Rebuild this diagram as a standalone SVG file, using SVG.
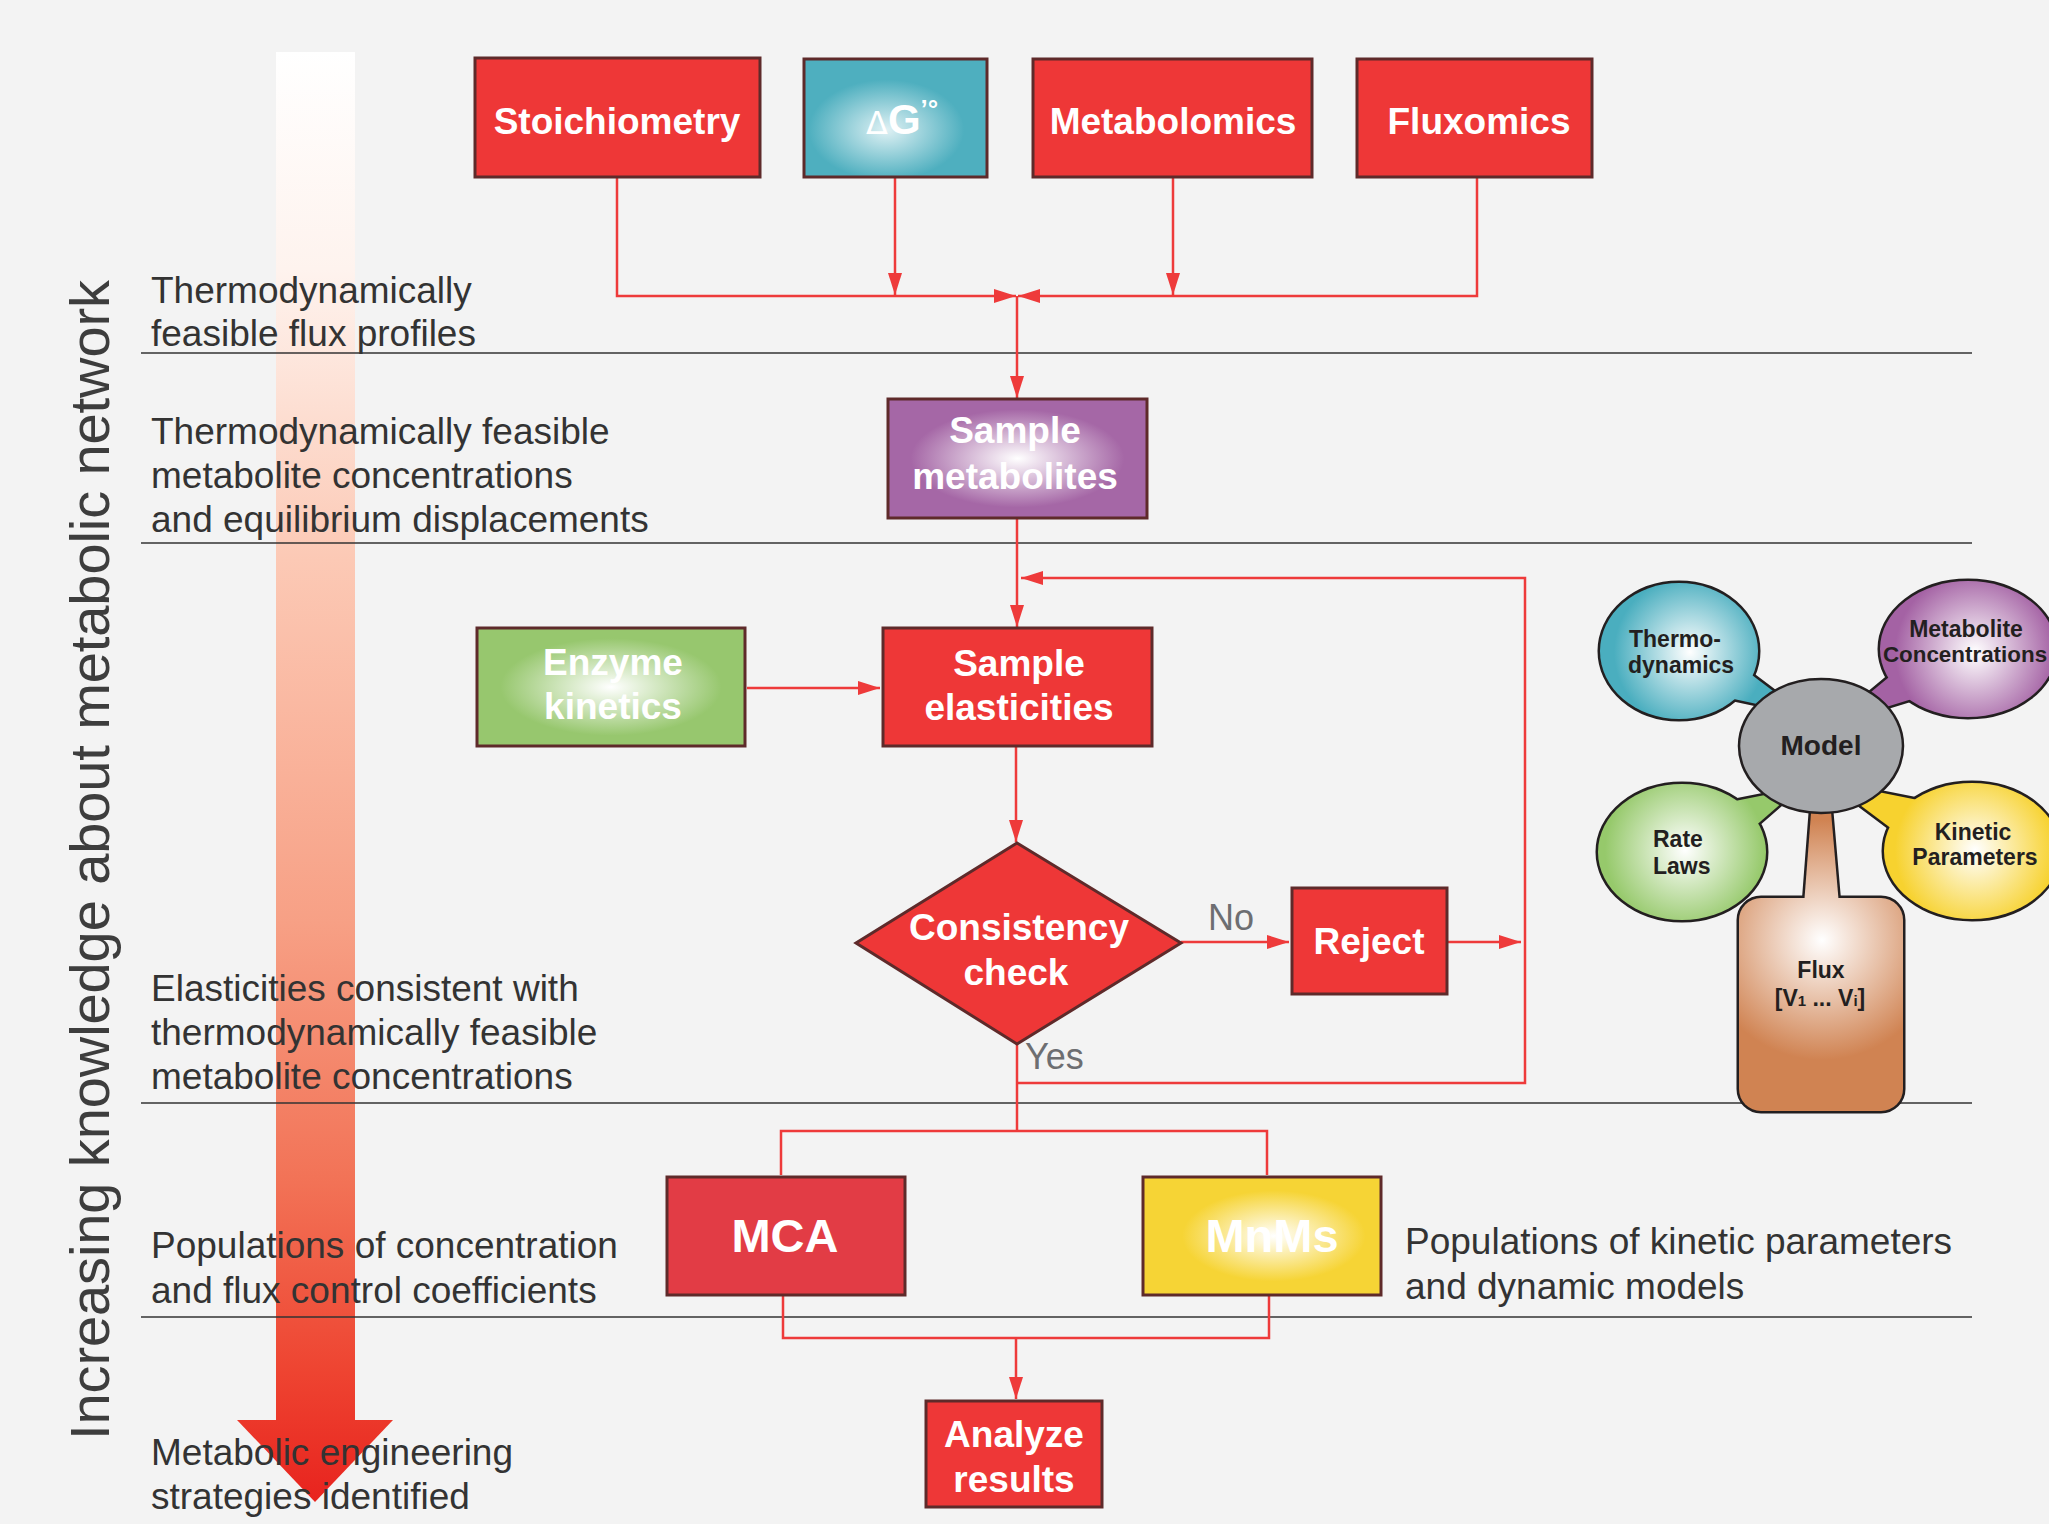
<svg xmlns="http://www.w3.org/2000/svg" width="2049" height="1524" viewBox="0 0 2049 1524">
<defs>
<style>
.box{stroke:#5e2a2a;stroke-width:3}
.lbl{font-family:"Liberation Sans",Arial,sans-serif;font-weight:bold;fill:#fff;font-size:37px;text-anchor:middle}
.side{font-family:"Liberation Sans",Arial,sans-serif;font-size:37px;fill:#333}
.conn{fill:none;stroke:#ee3a3a;stroke-width:2.5}
.div{stroke:#333;stroke-width:1.6}
.yn{font-family:"Liberation Sans",Arial,sans-serif;font-size:36px;fill:#6d6e71}
.bub{font-family:"Liberation Sans",Arial,sans-serif;font-size:23px;font-weight:bold;fill:#231f20}
.ol{fill:none;stroke:#231f20;stroke-width:5}
</style>
<marker id="ah" viewBox="0 0 22 14" refX="22" refY="7" markerWidth="22" markerHeight="14" markerUnits="userSpaceOnUse" orient="auto">
<path d="M0,0 L22,7 L0,14 z" fill="#ee3a3a"/>
</marker>
<linearGradient id="bar" gradientUnits="userSpaceOnUse" x1="0" y1="52" x2="0" y2="1502">
<stop offset="0" stop-color="#ffffff"/>
<stop offset="0.15" stop-color="#fef3ee"/>
<stop offset="0.35" stop-color="#fcc9b5"/>
<stop offset="0.6" stop-color="#f7a085"/>
<stop offset="0.78" stop-color="#f27256"/>
<stop offset="0.91" stop-color="#ee4431"/>
<stop offset="1" stop-color="#e8231e"/>
</linearGradient>
<radialGradient id="gTeal" cx="0.45" cy="0.6" r="0.5"><stop offset="0" stop-color="#dff1f4"/><stop offset="0.85" stop-color="#4eafbf"/></radialGradient>
<radialGradient id="gPurple" cx="0.5" cy="0.5" r="0.55"><stop offset="0" stop-color="#ffffff"/><stop offset="0.75" stop-color="#a567a6"/></radialGradient>
<radialGradient id="gGreen" cx="0.5" cy="0.5" r="0.55"><stop offset="0" stop-color="#ffffff"/><stop offset="0.75" stop-color="#97c76e"/></radialGradient>
<radialGradient id="gYellow" cx="0.55" cy="0.5" r="0.55"><stop offset="0" stop-color="#ffffff"/><stop offset="0.7" stop-color="#f6d435"/></radialGradient>
<radialGradient id="bTeal" gradientUnits="userSpaceOnUse" cx="1690" cy="652" r="95"><stop offset="0" stop-color="#ffffff"/><stop offset="0.8" stop-color="#4aaebf"/></radialGradient>
<radialGradient id="bPurple" gradientUnits="userSpaceOnUse" cx="1975" cy="652" r="100"><stop offset="0" stop-color="#ffffff"/><stop offset="0.8" stop-color="#a462a4"/></radialGradient>
<radialGradient id="bGreen" gradientUnits="userSpaceOnUse" cx="1685" cy="850" r="100"><stop offset="0" stop-color="#ffffff"/><stop offset="0.8" stop-color="#96c96b"/></radialGradient>
<radialGradient id="bYellow" gradientUnits="userSpaceOnUse" cx="1975" cy="850" r="100"><stop offset="0" stop-color="#ffffff"/><stop offset="0.8" stop-color="#f7d22f"/></radialGradient>
<radialGradient id="bOrange" gradientUnits="userSpaceOnUse" cx="1822" cy="940" r="160"><stop offset="0" stop-color="#ffffff"/><stop offset="0.75" stop-color="#d08352"/></radialGradient>
</defs>
<rect x="0" y="0" width="2049" height="1524" fill="#f3f3f3"/>

<g id="knowledge-arrow">
<rect x="276" y="52" width="79" height="1369" fill="url(#bar)"/>
<polygon points="237,1420 393,1420 315,1502" fill="url(#bar)"/>
<text transform="translate(109,1440) rotate(-90)" font-family="Liberation Sans, Arial, sans-serif" font-size="56" fill="#3d3d3d" textLength="1160" lengthAdjust="spacing">Increasing knowledge about metabolic network</text>
</g>

<g id="dividers">
<line class="div" x1="141" y1="353" x2="1972" y2="353"/>
<line class="div" x1="141" y1="543" x2="1972" y2="543"/>
<line class="div" x1="141" y1="1103" x2="1972" y2="1103"/>
<line class="div" x1="141" y1="1317" x2="1972" y2="1317"/>
</g>

<g id="side-labels">
<text class="side" x="151" y="303">Thermodynamically</text>
<text class="side" x="151" y="346">feasible flux profiles</text>
<text class="side" x="151" y="444">Thermodynamically feasible</text>
<text class="side" x="151" y="488">metabolite concentrations</text>
<text class="side" x="151" y="532">and equilibrium displacements</text>
<text class="side" x="151" y="1001">Elasticities consistent with</text>
<text class="side" x="151" y="1045">thermodynamically feasible</text>
<text class="side" x="151" y="1089">metabolite concentrations</text>
<text class="side" x="151" y="1258">Populations of concentration</text>
<text class="side" x="151" y="1303">and flux control coefficients</text>
<text class="side" x="151" y="1465">Metabolic engineering</text>
<text class="side" x="151" y="1509">strategies identified</text>
<text class="side" x="1405" y="1254">Populations of kinetic parameters</text>
<text class="side" x="1405" y="1299">and dynamic models</text>
</g>

<g id="connectors">
<path class="conn" d="M617,178 V296 H1016" marker-end="url(#ah)"/>
<path class="conn" d="M895,178 V295" marker-end="url(#ah)"/>
<path class="conn" d="M1173,178 V295" marker-end="url(#ah)"/>
<path class="conn" d="M1477,178 V296 H1018" marker-end="url(#ah)"/>
<path class="conn" d="M1017,296 V398" marker-end="url(#ah)"/>
<path class="conn" d="M1017,518 V627" marker-end="url(#ah)"/>
<path class="conn" d="M1017,1083 H1525 V578 H1021" marker-end="url(#ah)"/>
<path class="conn" d="M747,688 H880" marker-end="url(#ah)"/>
<path class="conn" d="M1016,746 V842" marker-end="url(#ah)"/>
<path class="conn" d="M1181,942 H1289" marker-end="url(#ah)"/>
<path class="conn" d="M1447,942 H1521" marker-end="url(#ah)"/>
<path class="conn" d="M1017,1044 V1131"/>
<path class="conn" d="M781,1175 V1131 H1267 V1175"/>
<path class="conn" d="M783,1295 V1338 H1269 V1295"/>
<path class="conn" d="M1016,1338 V1399" marker-end="url(#ah)"/>
<text class="yn" x="1208" y="930">No</text>
<text class="yn" x="1025" y="1069">Yes</text>
</g>

<g id="stoichiometry">
<rect class="box" x="475" y="58" width="285" height="119" fill="#ee3737"/>
<text class="lbl" x="617" y="134">Stoichiometry</text>
</g>
<g id="deltaG">
<rect class="box" x="804" y="59" width="183" height="118" fill="url(#gTeal)"/>
<text x="866" y="134" font-family="DejaVu Sans, sans-serif" fill="#fff"><tspan font-size="32">Δ</tspan><tspan font-family="Liberation Sans, Arial, sans-serif" font-weight="bold" font-size="42">G</tspan><tspan font-family="Liberation Sans, Arial, sans-serif" font-weight="bold" font-size="26" dy="-16">’°</tspan></text>
</g>
<g id="metabolomics">
<rect class="box" x="1033" y="59" width="279" height="118" fill="#ee3737"/>
<text class="lbl" x="1173" y="134">Metabolomics</text>
</g>
<g id="fluxomics">
<rect class="box" x="1357" y="59" width="235" height="118" fill="#ee3737"/>
<text class="lbl" x="1479" y="134">Fluxomics</text>
</g>

<g id="sample-metabolites">
<rect class="box" x="888" y="399" width="259" height="119" fill="url(#gPurple)"/>
<text class="lbl" x="1015" y="443">Sample</text>
<text class="lbl" x="1015" y="489">metabolites</text>
</g>
<g id="enzyme-kinetics">
<rect class="box" x="477" y="628" width="268" height="118" fill="url(#gGreen)"/>
<text class="lbl" x="613" y="675">Enzyme</text>
<text class="lbl" x="613" y="719">kinetics</text>
</g>
<g id="sample-elasticities">
<rect class="box" x="883" y="628" width="269" height="118" fill="#ee3737"/>
<text class="lbl" x="1019" y="676">Sample</text>
<text class="lbl" x="1019" y="720">elasticities</text>
</g>
<g id="consistency-check">
<polygon class="box" points="1017,843 1181,943 1017,1044 856,943" fill="#ee3737"/>
<text class="lbl" x="1019" y="940">Consistency</text>
<text class="lbl" x="1016" y="985">check</text>
</g>
<g id="reject">
<rect class="box" x="1292" y="888" width="155" height="106" fill="#ee3737"/>
<text class="lbl" x="1369" y="954">Reject</text>
</g>
<g id="mca">
<rect class="box" x="667" y="1177" width="238" height="118" fill="#e23c45"/>
<text class="lbl" x="785" y="1252" style="font-size:47px">MCA</text>
</g>
<g id="mnms">
<rect class="box" x="1143" y="1177" width="238" height="118" fill="url(#gYellow)"/>
<text class="lbl" x="1272" y="1252" style="font-size:47px">MnMs</text>
</g>
<g id="analyze-results">
<rect class="box" x="926" y="1401" width="176" height="106" fill="#ee3737"/>
<text class="lbl" x="1014" y="1447">Analyze</text>
<text class="lbl" x="1014" y="1492">results</text>
</g>

<g id="model-figure">
<g id="bubble-thermodynamics">
<ellipse class="ol" cx="1679" cy="651" rx="79" ry="68"/>
<polygon class="ol" points="1740,666 1785,700 1780,709 1720,696"/>
<ellipse fill="url(#bTeal)" cx="1679" cy="651" rx="79" ry="68"/>
<polygon fill="url(#bTeal)" points="1740,666 1785,700 1780,709 1720,696"/>
<text class="bub" x="1629" y="647">Thermo-</text>
<text class="bub" x="1628" y="673">dynamics</text>
</g>
<g id="bubble-metabolite-concentrations">
<ellipse class="ol" cx="1968" cy="649" rx="88" ry="68"/>
<polygon class="ol" points="1900,668 1865,697 1870,712 1925,695"/>
<ellipse fill="url(#bPurple)" cx="1968" cy="649" rx="88" ry="68"/>
<polygon fill="url(#bPurple)" points="1900,668 1865,697 1870,712 1925,695"/>
<text class="bub" x="1966" y="637" text-anchor="middle">Metabolite</text>
<text class="bub" x="1965" y="662" text-anchor="middle" style="font-size:22.4px">Concentrations</text>
</g>
<g id="bubble-rate-laws">
<ellipse class="ol" cx="1682" cy="852" rx="84" ry="68"/>
<polygon class="ol" points="1725,803 1780,792 1785,800 1745,835"/>
<ellipse fill="url(#bGreen)" cx="1682" cy="852" rx="84" ry="68"/>
<polygon fill="url(#bGreen)" points="1725,803 1780,792 1785,800 1745,835"/>
<text class="bub" x="1653" y="847">Rate</text>
<text class="bub" x="1653" y="874">Laws</text>
</g>
<g id="bubble-kinetic-parameters">
<ellipse class="ol" cx="1972" cy="851" rx="88" ry="68"/>
<polygon class="ol" points="1918,800 1868,790 1860,805 1900,835"/>
<ellipse fill="url(#bYellow)" cx="1972" cy="851" rx="88" ry="68"/>
<polygon fill="url(#bYellow)" points="1918,800 1868,790 1860,805 1900,835"/>
<text class="bub" x="1973" y="840" text-anchor="middle">Kinetic</text>
<text class="bub" x="1975" y="865" text-anchor="middle">Parameters</text>
</g>
<g id="flux">
<rect class="ol" x="1739" y="898" width="164" height="213" rx="22"/>
<polygon class="ol" points="1812,800 1830,800 1839,905 1804,905"/>
<rect fill="url(#bOrange)" x="1739" y="898" width="164" height="213" rx="22"/>
<polygon fill="url(#bOrange)" points="1812,800 1830,800 1839,905 1804,905"/>
<text class="bub" x="1821" y="978" text-anchor="middle">Flux</text>
<text class="bub" x="1820" y="1006" text-anchor="middle">[V<tspan font-size="15">1</tspan> ... V<tspan font-size="15">i</tspan>]</text>
</g>
<g id="model">
<ellipse cx="1821" cy="746" rx="82" ry="67" fill="#a7a9ac" stroke="#231f20" stroke-width="2.5"/>
<text class="bub" x="1821" y="755" text-anchor="middle" style="font-size:28px">Model</text>
</g>
</g>
</svg>
